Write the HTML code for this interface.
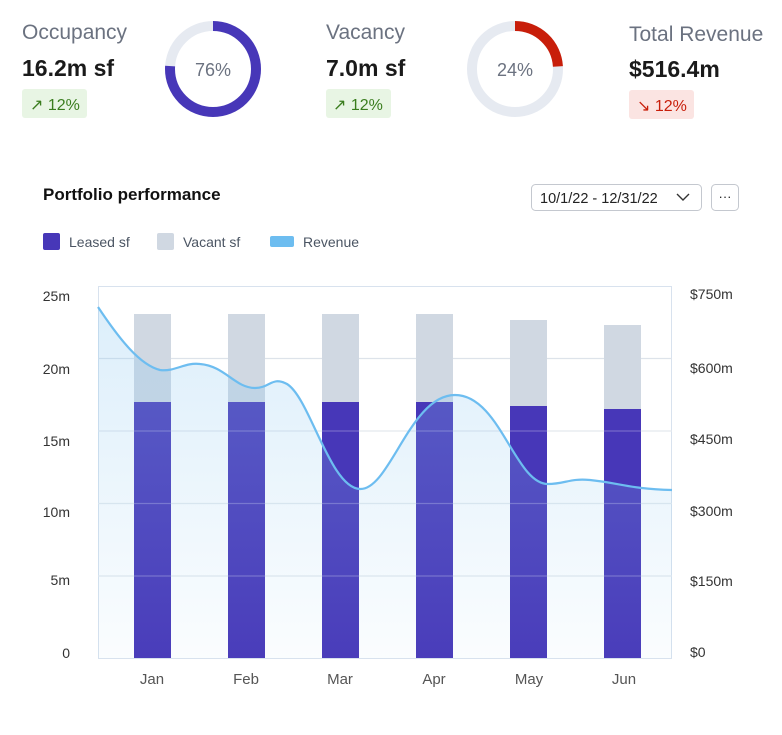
<!DOCTYPE html>
<html><head><meta charset="utf-8"><style>
body{margin:0;width:782px;height:730px;background:#fff;font-family:"Liberation Sans",sans-serif;overflow:hidden}
</style></head><body>
<svg width="782" height="730" xmlns="http://www.w3.org/2000/svg" font-family="Liberation Sans, sans-serif">
<defs>
<linearGradient id="g" x1="0" y1="0" x2="0" y2="1">
<stop offset="0" stop-color="#8cc8f0" stop-opacity="0.3"/>
<stop offset="1" stop-color="#8cc8f0" stop-opacity="0.04"/>
</linearGradient>
</defs>
<!-- KPIs -->
<text x="22" y="39" font-size="21" fill="#6b7280">Occupancy</text>
<text x="22" y="76" font-size="23" font-weight="bold" fill="#1a1a1a">16.2m sf</text>
<rect x="22" y="89" width="65" height="29" rx="3" fill="#e8f5e4"/>
<text x="30" y="110" font-size="16" fill="#3a7d1e">↗ 12%</text>
<circle cx="213" cy="69" r="43" fill="none" stroke="#e6eaf1" stroke-width="10"/>
<circle cx="213" cy="69" r="43" fill="none" stroke="#4737b8" stroke-width="10" stroke-dasharray="205.3 270.2" transform="rotate(-90 213 69)"/>
<text x="213" y="76" font-size="18" fill="#6b7280" text-anchor="middle">76%</text>

<text x="326" y="39" font-size="21" fill="#6b7280">Vacancy</text>
<text x="326" y="76" font-size="23" font-weight="bold" fill="#1a1a1a">7.0m sf</text>
<rect x="326" y="89" width="65" height="29" rx="3" fill="#e8f5e4"/>
<text x="333" y="110" font-size="16" fill="#3a7d1e">↗ 12%</text>
<circle cx="515" cy="69" r="43" fill="none" stroke="#e6eaf1" stroke-width="10"/>
<circle cx="515" cy="69" r="43" fill="none" stroke="#c81e0a" stroke-width="10" stroke-dasharray="64.8 270.2" transform="rotate(-90 515 69)"/>
<text x="515" y="76" font-size="18" fill="#6b7280" text-anchor="middle">24%</text>

<text x="629" y="41" font-size="21" fill="#6b7280">Total Revenue</text>
<text x="629" y="77" font-size="23" font-weight="bold" fill="#1a1a1a">$516.4m</text>
<rect x="629" y="90" width="65" height="29" rx="3" fill="#fbe4e2"/>
<text x="637" y="111" font-size="16" fill="#c81e0a">↘ 12%</text>

<!-- Header -->
<text x="43" y="200" font-size="17" font-weight="bold" fill="#111">Portfolio performance</text>
<rect x="531.5" y="184.5" width="170" height="26" rx="4" fill="#fff" stroke="#c4c8cf"/>
<text x="540" y="203" font-size="14.5" fill="#222">10/1/22 - 12/31/22</text>
<path d="M677 194 l6 6 l6 -6" fill="none" stroke="#333" stroke-width="1.4"/>
<rect x="711.5" y="184.5" width="27" height="26" rx="4" fill="#fff" stroke="#c4c8cf"/>
<text x="725" y="201" font-size="13" fill="#222" text-anchor="middle">···</text>

<rect x="43" y="233" width="17" height="17" rx="2" fill="#4737b8"/>
<text x="69" y="247" font-size="14" fill="#4b5563">Leased sf</text>
<rect x="157" y="233" width="17" height="17" rx="2" fill="#d0d8e2"/>
<text x="183" y="247" font-size="14" fill="#4b5563">Vacant sf</text>
<rect x="270" y="236" width="24" height="11" rx="2" fill="#6dbdf0"/>
<text x="303" y="247" font-size="14" fill="#4b5563">Revenue</text>

<!-- plot -->
<rect x="98.5" y="286.5" width="573" height="372" fill="#fff" stroke="#d8e2ee"/>
<g stroke="#dde3ea" stroke-width="1.2">
<line x1="98" y1="358.5" x2="672" y2="358.5"/>
<line x1="98" y1="431" x2="672" y2="431"/>
<line x1="98" y1="503.5" x2="672" y2="503.5"/>
<line x1="98" y1="576" x2="672" y2="576"/>
</g>
<g fill="#d0d8e2">
<rect x="134" y="314" width="37" height="88"/>
<rect x="228" y="314" width="37" height="88"/>
<rect x="322" y="314" width="37" height="88"/>
<rect x="416" y="314" width="37" height="88"/>
<rect x="510" y="320" width="37" height="86"/>
<rect x="604" y="325" width="37" height="84"/>
</g>
<g fill="#4737b8">
<rect x="134" y="402" width="37" height="256"/>
<rect x="228" y="402" width="37" height="256"/>
<rect x="322" y="402" width="37" height="256"/>
<rect x="416" y="402" width="37" height="256"/>
<rect x="510" y="406" width="37" height="252"/>
<rect x="604" y="409" width="37" height="249"/>
</g>
<g stroke="#ffffff" stroke-opacity="0.25" stroke-width="1.2">
<line x1="98" y1="431" x2="672" y2="431"/>
<line x1="98" y1="503.5" x2="672" y2="503.5"/>
<line x1="98" y1="576" x2="672" y2="576"/>
</g>
<path d="M98 307 C120 340 140 365 160 370 C175 372 185 362 200 364 C225 366 235 388 255 388 C270 388 272 376 287 384 C310 398 330 488 360 489 C390 490 410 395 455 395 C500 395 515 484 548 484 C565 484 570 478 590 480 C620 483 630 489 672 490 L672 658 L98 658 Z" fill="url(#g)"/>
<path d="M98 307 C120 340 140 365 160 370 C175 372 185 362 200 364 C225 366 235 388 255 388 C270 388 272 376 287 384 C310 398 330 488 360 489 C390 490 410 395 455 395 C500 395 515 484 548 484 C565 484 570 478 590 480 C620 483 630 489 672 490" fill="none" stroke="#6dbdf0" stroke-width="2.2"/>

<g font-size="14" fill="#333" text-anchor="end">
<text x="70" y="301">25m</text>
<text x="70" y="374">20m</text>
<text x="70" y="446">15m</text>
<text x="70" y="517">10m</text>
<text x="70" y="585">5m</text>
<text x="70" y="658">0</text>
</g>
<g font-size="14" fill="#333">
<text x="690" y="299">$750m</text>
<text x="690" y="373">$600m</text>
<text x="690" y="444">$450m</text>
<text x="690" y="516">$300m</text>
<text x="690" y="586">$150m</text>
<text x="690" y="657">$0</text>
</g>
<g font-size="15" fill="#555" text-anchor="middle">
<text x="152" y="684">Jan</text>
<text x="246" y="684">Feb</text>
<text x="340" y="684">Mar</text>
<text x="434" y="684">Apr</text>
<text x="529" y="684">May</text>
<text x="624" y="684">Jun</text>
</g>
</svg>
</body></html>
